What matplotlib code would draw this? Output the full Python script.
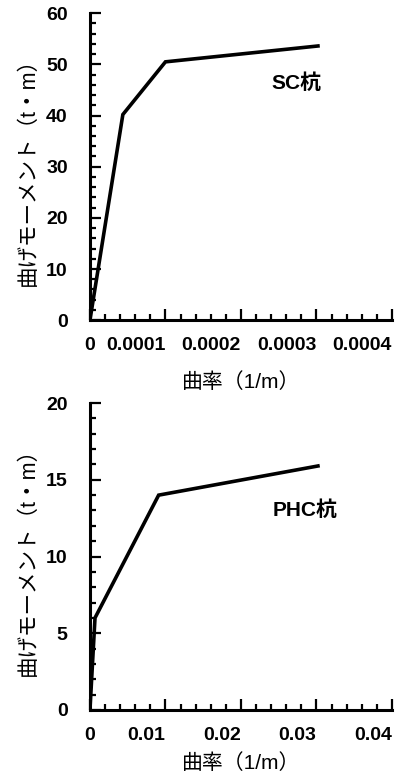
import matplotlib
matplotlib.use('Agg')
import matplotlib.pyplot as plt
from matplotlib.ticker import MultipleLocator, FixedLocator

plt.rcParams['font.family'] = ['Liberation Sans', 'Noto Sans CJK JP']
plt.rcParams['font.weight'] = 'bold'

# SC pile: curvature (1/m) vs bending moment (t*m)
sc_curv = [0, 0.0000436, 0.0001, 0.000302]
sc_moment = [0, 40.2, 50.5, 53.6]
sc_xticks = [0, 0.0001, 0.0002, 0.0003, 0.0004]
sc_xlabels = ['0', '0.0001', '0.0002', '0.0003', '0.0004']
sc_yticks = [0, 10, 20, 30, 40, 50, 60]

# PHC pile
phc_curv = [0, 0.00067, 0.0091, 0.0302]
phc_moment = [0, 6.0, 14.0, 15.9]
phc_xticks = [0, 0.01, 0.02, 0.03, 0.04]
phc_xlabels = ['0', '0.01', '0.02', '0.03', '0.04']
phc_yticks = [0, 5, 10, 15, 20]

ylabel = '曲げモーメント（t・m）'
xlabel = '曲率（1/m）'

fig = plt.figure(figsize=(4.07, 7.79), dpi=100)
ax1 = fig.add_axes([0.221, 0.589, 0.742, 0.394])
ax2 = fig.add_axes([0.221, 0.0886, 0.742, 0.394])


def style(ax, xt, xl, yt, xminor, yminor, xpad):
    ax.set_xlim(xt[0], xt[-1])
    ax.set_ylim(yt[0], yt[-1])
    for s in ['top', 'right']:
        ax.spines[s].set_visible(False)
    for s in ['left', 'bottom']:
        ax.spines[s].set_linewidth(2.2)
    ax.xaxis.set_major_locator(FixedLocator(xt))
    ax.set_xticklabels(xl)
    ax.set_yticks(yt)
    ax.xaxis.set_minor_locator(MultipleLocator(xminor))
    ax.yaxis.set_minor_locator(MultipleLocator(yminor))
    ax.tick_params(which='major', direction='in', length=8, width=1.6,
                   labelsize=14)
    ax.tick_params(which='minor', direction='in', length=4.5, width=1.6)
    ax.tick_params(axis='x', which='major', pad=12)
    ax.tick_params(axis='y', which='major', pad=16)
    for i, lab in enumerate(ax.get_xticklabels()):
        lab.set_ha('center' if i == 0 else 'right')
    ax.set_xlabel(xlabel, fontsize=15, labelpad=xpad)
    ax.set_ylabel(ylabel, fontsize=15.5, labelpad=5)


ax1.plot(sc_curv, sc_moment, color='black', lw=2.6, solid_joinstyle='miter')
style(ax1, sc_xticks, sc_xlabels, sc_yticks, 0.00002, 2, 13)
ax1.text(0.000274, 46.3, 'SC杭', fontsize=15, ha='center', va='center')

ax2.plot(phc_curv, phc_moment, color='black', lw=2.6, solid_joinstyle='miter')
style(ax2, phc_xticks, phc_xlabels, phc_yticks, 0.002, 1, 7)
ax2.text(0.0285, 13.0, 'PHC杭', fontsize=15, ha='center', va='center')

fig.savefig('out.png', dpi=100)
